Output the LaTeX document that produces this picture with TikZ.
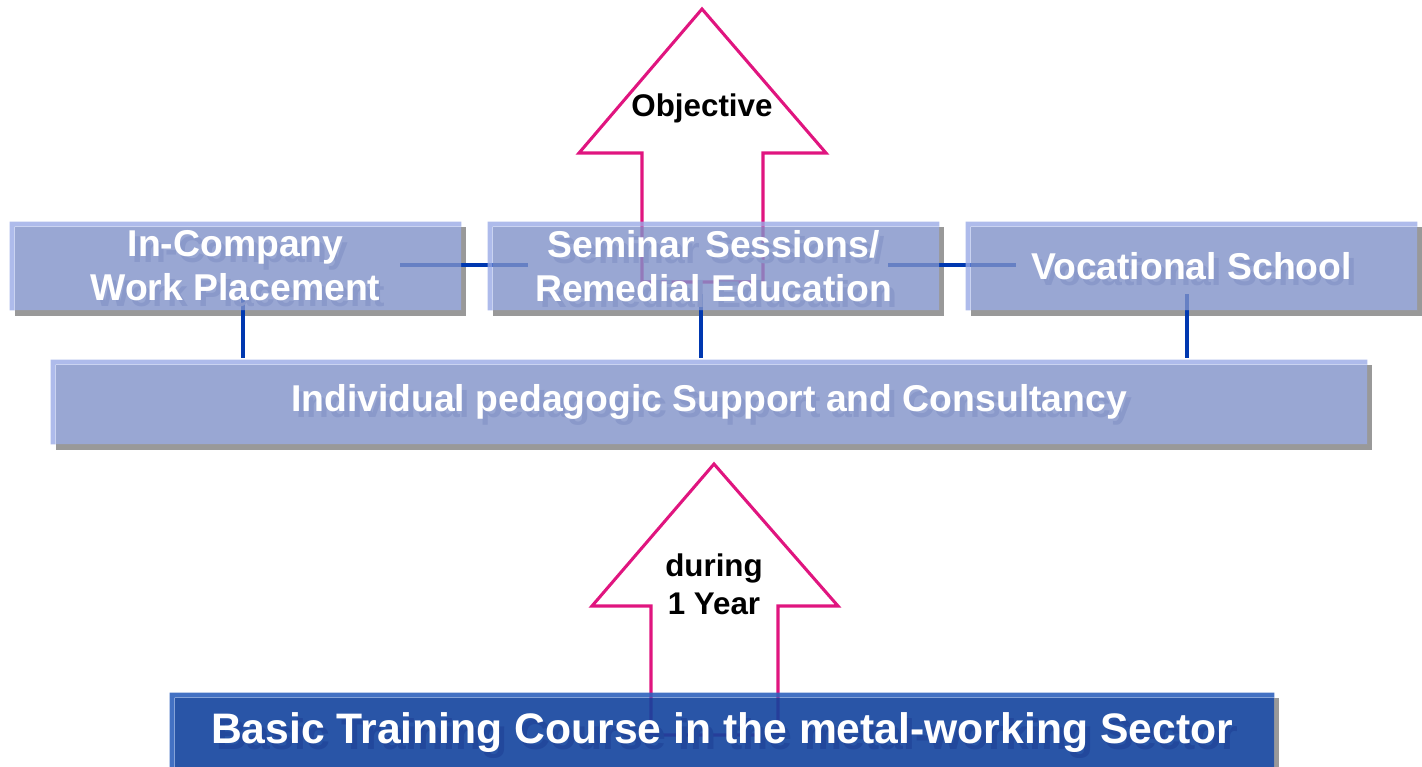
\documentclass[tikz,border=0pt]{standalone}
\usepackage{fontspec}
\setmainfont{Liberation Sans}
\usetikzlibrary{calc}
\pgfdeclarelayer{shadowl}
\pgfdeclarelayer{whitel}
\pgfdeclarelayer{linel}
\pgfdeclarelayer{filll}
\pgfdeclarelayer{tshadl}
\pgfsetlayers{shadowl,whitel,linel,filll,tshadl,main}
\definecolor{boxfill}{RGB}{128,146,201}
\definecolor{boxlight}{RGB}{154,171,230}
\definecolor{boxshade}{RGB}{138,153,202}
\definecolor{darkfill}{RGB}{18,67,158}
\definecolor{darklight}{RGB}{47,98,189}
\definecolor{darkshade}{RGB}{34,72,156}
\definecolor{connc}{RGB}{0,56,176}
\definecolor{pinkc}{RGB}{224,21,127}
\definecolor{dropgray}{RGB}{153,153,153}
\newcommand\boxdeco[4]{%
  \begin{pgfonlayer}{shadowl}
    \fill[dropgray] ($(#1.north west)+(5,5)$) rectangle ($(#1.south east)+(5,6)$);
  \end{pgfonlayer}
  \begin{pgfonlayer}{whitel}
    \fill[white] (#1.north west) rectangle (#1.south east);
  \end{pgfonlayer}
  \begin{pgfonlayer}{filll}
    \fill[#3, fill opacity=#4, even odd rule] (#1.north west) rectangle (#1.south east)
      ($(#1.north west)+(5,5)$) rectangle (#1.south east);
    \fill[#2, fill opacity=#4] ($(#1.north west)+(5,5)$) rectangle (#1.south east);
  \end{pgfonlayer}}
\begin{document}
\begin{tikzpicture}[x=0.75pt, y=-0.75pt,
  boxnode/.style={rectangle, inner sep=0pt, minimum height=66pt, text=white,
    align=center, font=\bfseries\fontsize{28}{33}\selectfont},
  connline/.style={draw=connc, line width=2.4pt},
  pinkarrow/.style={draw=pinkc, line width=2.3pt, line join=miter},
  arrowtext/.style={align=center, text=black, inner sep=0pt,
    font=\bfseries\fontsize{23.5}{28.5}\selectfont}]
\useasboundingbox (0,0) rectangle (1422,767);

% boxes
\node[boxnode, minimum width=338.25pt] (L) at (235.5,266) {In-Company\\Work Placement};
\node[boxnode, minimum width=338.25pt] (M) at (713.5,266) {Seminar Sessions/\\Remedial Education};
\node[boxnode, minimum width=338.25pt] (R) at (1191.5,266) {Vocational School};
\node[boxnode, minimum width=987pt, minimum height=63pt] (W) at (709,402) {\raisebox{-2pt}{Individual pedagogic Support and Consultancy}};
\node[boxnode, minimum width=828pt, minimum height=60pt, font=\bfseries\fontsize{32}{38}\selectfont] (B) at (722,733) {\raisebox{-3pt}{Basic Training Course in the metal-working Sector}};

\boxdeco{L}{boxfill}{boxlight}{.8}
\boxdeco{M}{boxfill}{boxlight}{.8}
\boxdeco{R}{boxfill}{boxlight}{.8}
\boxdeco{W}{boxfill}{boxlight}{.8}
\boxdeco{B}{darkfill}{darklight}{.9}

% text shadows
\begin{pgfonlayer}{tshadl}
\node[boxnode, text=boxshade] at ($(L)+(5,6)$) {In-Company\\Work Placement};
\node[boxnode, text=boxshade] at ($(M)+(5,6)$) {Seminar Sessions/\\Remedial Education};
\node[boxnode, text=boxshade] at ($(R)+(5,6)$) {Vocational School};
\node[boxnode, text=boxshade] at ($(W)+(5,6)$) {\raisebox{-2pt}{Individual pedagogic Support and Consultancy}};
\node[boxnode, text=darkshade, font=\bfseries\fontsize{32}{38}\selectfont] at ($(B)+(5,6)$) {\raisebox{-3pt}{Basic Training Course in the metal-working Sector}};
\end{pgfonlayer}

% arrow labels
\node[arrowtext] (obj) at (702,108) {Objective};
\node[arrowtext] (dur) at (714,584) {during\\1 Year};

% connectors and arrows (under the translucent boxes)
\begin{pgfonlayer}{linel}
\draw[connline] ($(L.east)+(-61,-1)$) -- ($(M.west)+(40,-1)$);
\draw[connline] ($(M.east)+(-51,-1)$) -- ($(R.west)+(50,-1)$);
\draw[connline] ($(L.south)+(7.5,-16)$) -- ($(L.south |- W.north)+(7.5,-2)$);
\draw[connline] ($(M.south)+(-12.5,-16)$) -- ($(M.south |- W.north)+(-12.5,-2)$);
\draw[connline] ($(R.south)+(-4.5,-16)$) -- ($(R.south |- W.north)+(-4.5,-2)$);
\draw[pinkarrow] (642,282) -- (642,153) -- (579,153) -- (702,9) -- (826,153) -- (763,153) -- (763,282) -- cycle;
\draw[pinkarrow] (651,735) -- (651,606) -- (592,606) -- (714,464) -- (838,606) -- (778,606) -- (778,735) -- cycle;
\end{pgfonlayer}
\end{tikzpicture}
\end{document}
